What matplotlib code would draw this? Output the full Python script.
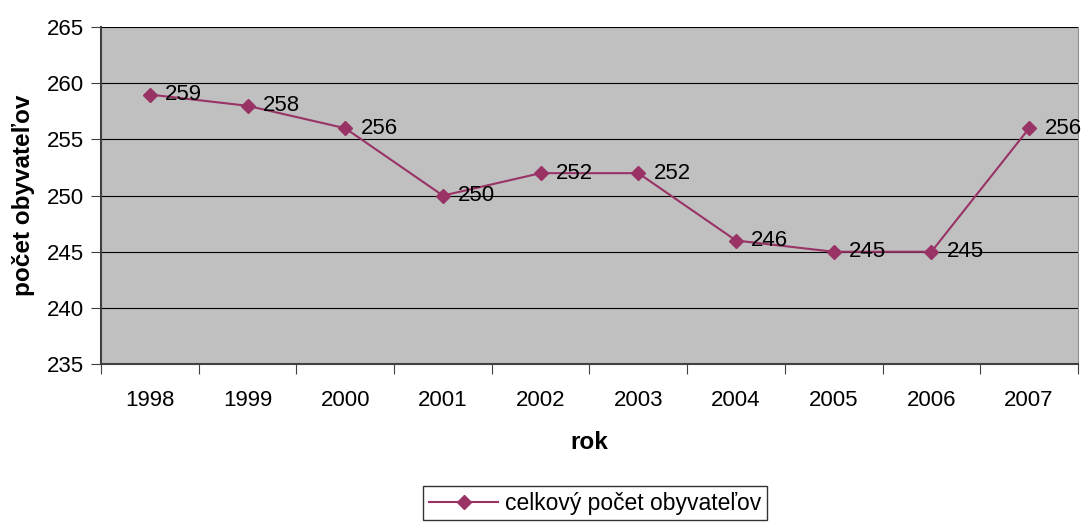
import matplotlib.pyplot as plt
from matplotlib.ticker import FixedLocator, NullFormatter

plt.rcParams["font.family"] = ["Liberation Sans", "DejaVu Sans"]

roky = ["1998", "1999", "2000", "2001", "2002", "2003", "2004", "2005", "2006", "2007"]
pocet = [259, 258, 256, 250, 252, 252, 246, 245, 245, 256]

farba = "#993366"

fig = plt.figure(figsize=(10.86, 5.23), dpi=100)
ax = fig.add_axes([0.093, 0.304, 0.8996, 0.644])
ax.set_facecolor("#C0C0C0")

x = list(range(len(roky)))
ax.plot(x, pocet, color=farba, marker="D", markersize=7, linewidth=1.5,
        label="celkový počet obyvateľov", zorder=3)

for xi, yi in zip(x, pocet):
    ax.annotate(str(yi), (xi, yi), xytext=(11, 0), textcoords="offset points",
                va="center", ha="left", fontsize=16, zorder=4)

ax.set_xlim(-0.5, len(roky) - 0.5)
ax.set_ylim(235, 265)
ax.set_yticks(range(235, 266, 5))
ax.yaxis.grid(True, color="black", linewidth=0.8)
ax.set_axisbelow(True)

# popisky rokov v strede, čiarky medzi kategóriami
ax.xaxis.set_major_locator(FixedLocator([i - 0.5 for i in range(len(roky) + 1)]))
ax.xaxis.set_major_formatter(NullFormatter())
ax.xaxis.set_minor_locator(FixedLocator(x))
ax.set_xticklabels(roky, minor=True)
ax.tick_params(axis="x", which="major", length=7, direction="out", color="#404040")
ax.tick_params(axis="x", which="minor", length=0, pad=19, labelsize=16)
ax.tick_params(axis="y", length=7, direction="out", labelsize=16, color="#404040", pad=5)

ax.spines["top"].set_visible(False)
ax.spines["right"].set_color("#909090")
ax.spines["left"].set_color("#404040")
ax.spines["bottom"].set_color("#404040")
ax.spines["left"].set_linewidth(1.5)
ax.spines["bottom"].set_linewidth(1.5)

ax.set_xlabel("rok", fontsize=17.5, fontweight="bold", labelpad=14)
ax.set_ylabel("počet obyvateľov", fontsize=17.5, fontweight="bold", labelpad=9)

leg = fig.legend(loc="center", bbox_to_anchor=(0.548, 0.038), fontsize=16.5,
                 frameon=True, fancybox=False, edgecolor="black", handlelength=3.0,
                 handletextpad=0.3, borderpad=0.25)
leg.get_frame().set_linewidth(1)

fig.savefig("out.png", dpi=100)
